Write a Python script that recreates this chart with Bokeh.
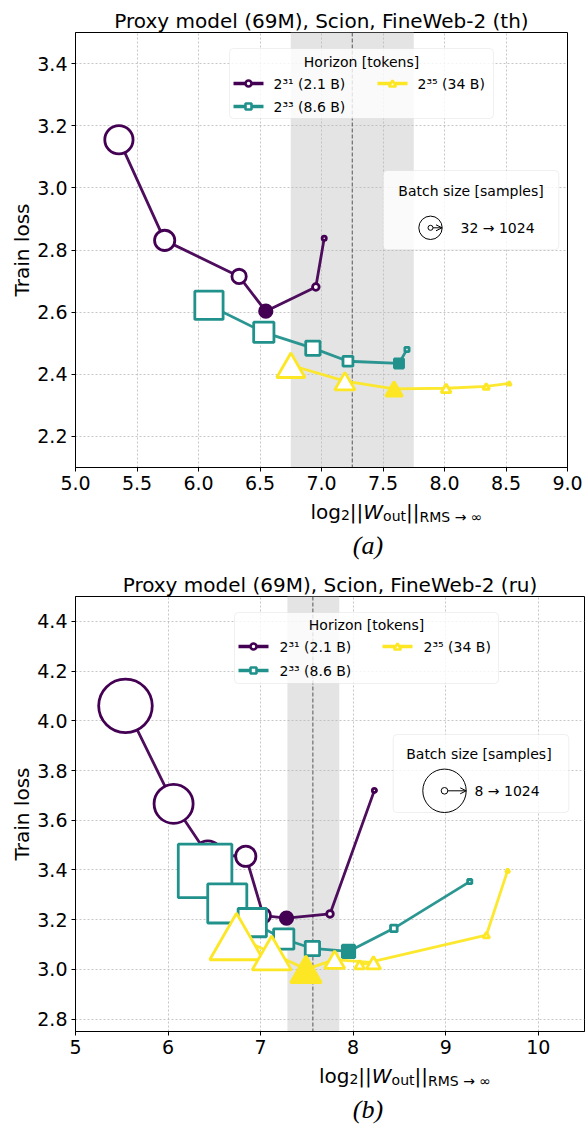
import math
from bokeh.plotting import figure
from bokeh.models import (Range1d, FixedTicker, BoxAnnotation, Span, Label, Arrow,
                          OpenHead, ColumnDataSource, NumeralTickFormatter)
from bokeh.layouts import column
from bokeh.embed import file_html
from bokeh.resources import INLINE

COLORS = ["#440154", "#21918c", "#fde725"]
MARKERS = ["circle", "square", "triangle"]
HORIZON_LABELS = ["2³¹ (2.1 B)", "2³³ (8.6 B)", "2³⁵ (34 B)"]
FONT = "DejaVu Sans"

# ---------------- panel (a): th ----------------
a_title = "Proxy model (69M), Scion, FineWeb-2 (th)"
a_batch = [1024, 512, 256, 128, 64, 32]
a_x31 = [5.353, 5.725, 6.330, 6.547, 6.954, 7.022]
a_y31 = [3.155, 2.831, 2.715, 2.603, 2.681, 2.838]
a_x33 = [6.085, 6.531, 6.930, 7.215, 7.630, 7.695]
a_y33 = [2.622, 2.535, 2.484, 2.442, 2.435, 2.480]
a_x35 = [6.751, 7.190, 7.590, 8.013, 8.339, 8.526]
a_y35 = [2.429, 2.378, 2.353, 2.355, 2.361, 2.371]
a_best = [3, 4, 2]
a_band = [6.75, 7.75]
a_center = 7.25
a_xlim = (5.0, 9.0)
a_ylim = (2.1, 3.5)
a_xticks = [5.0, 5.5, 6.0, 6.5, 7.0, 7.5, 8.0, 8.5, 9.0]
a_xtick_labels = ["5.0", "5.5", "6.0", "6.5", "7.0", "7.5", "8.0", "8.5", "9.0"]
a_yticks = [2.2, 2.4, 2.6, 2.8, 3.0, 3.2, 3.4]
a_ytick_labels = ["2.2", "2.4", "2.6", "2.8", "3.0", "3.2", "3.4"]
a_batch_text = "32 → 1024"

# ---------------- panel (b): ru ----------------
b_title = "Proxy model (69M), Scion, FineWeb-2 (ru)"
b_batch = [1024, 512, 256, 128, 64, 32, 16, 8]
b_x31 = [5.54, 6.06, 6.43, 6.84, 7.03, 7.28, 7.75, 8.23]
b_y31 = [4.060, 3.666, 3.460, 3.455, 3.216, 3.206, 3.223, 3.720]
b_x33 = [6.40, 6.64, 6.91, 7.25, 7.56, 7.95, 8.44, 9.26]
b_y33 = [3.396, 3.265, 3.188, 3.122, 3.084, 3.072, 3.165, 3.353]
b_x35 = [6.74, 7.12, 7.49, 7.80, 8.22, 8.07, 9.44, 9.67]
b_y35 = [3.132, 3.066, 3.000, 3.039, 3.027, 3.019, 3.138, 3.398]
b_best = [5, 5, 2]
b_band = [7.29, 7.85]
b_center = 7.565
b_xlim = (5.0, 10.5)
b_ylim = (2.75, 4.5)
b_xticks = [5, 6, 7, 8, 9, 10]
b_xtick_labels = ["5", "6", "7", "8", "9", "10"]
b_yticks = [2.8, 3.0, 3.2, 3.4, 3.6, 3.8, 4.0, 4.2, 4.4]
b_ytick_labels = ["2.8", "3.0", "3.2", "3.4", "3.6", "3.8", "4.0", "4.2", "4.4"]
b_batch_text = "8 → 1024"

LW = 2.8
W = 585
LEFT = 75
BOT = 29


def build(title, xlim, ylim, xticks, xlabels, yticks, ylabels, xfmt, band, center,
          xs, ys, batch, best, batch_text, fw, fh, top, yoff, leg, bleg):
    H = top + fh + BOT
    p = figure(width=W, height=H, frame_width=fw, frame_height=fh,
               x_range=Range1d(*xlim), y_range=Range1d(*ylim),
               min_border_left=LEFT, min_border_right=W - LEFT - fw,
               min_border_top=top, min_border_bottom=BOT,
               output_backend="svg", toolbar_location=None)
    x0, x1 = xlim
    y0, y1 = ylim
    sx = fw / (x1 - x0)
    sy = fh / (y1 - y0)

    def X(px):
        return x0 + (px - LEFT) / sx

    def Y(py):
        return y1 - (py - yoff - top) / sy

    p.title.text = title
    p.title.align = "center"
    p.title.text_font = FONT
    p.title.text_font_size = "20px"
    p.title.text_font_style = "normal"
    p.title.text_color = "black"
    p.title.standoff = 0

    p.xaxis.ticker = FixedTicker(ticks=xticks)
    p.yaxis.ticker = FixedTicker(ticks=yticks)
    p.xgrid.ticker = FixedTicker(ticks=xticks)
    p.ygrid.ticker = FixedTicker(ticks=yticks)
    p.xaxis.formatter = NumeralTickFormatter(format=xfmt)
    p.yaxis.formatter = NumeralTickFormatter(format="0.0")
    p.xaxis.major_label_overrides = {t: s for t, s in zip(xticks, xlabels)}
    p.yaxis.major_label_overrides = {t: s for t, s in zip(yticks, ylabels)}
    for ax in (p.xaxis, p.yaxis):
        ax.major_label_text_font = FONT
        ax.major_label_text_font_size = "19px"
        ax.major_label_text_color = "black"
        ax.axis_line_color = "black"
        ax.major_tick_line_color = "black"
        ax.major_tick_out = 4
        ax.major_tick_in = 0
        ax.minor_tick_line_color = None
        ax.major_label_standoff = 4
    p.yaxis.axis_label = "Train loss"
    p.yaxis.axis_label_text_font = FONT
    p.yaxis.axis_label_text_font_size = "20px"
    p.yaxis.axis_label_text_font_style = "normal"
    p.yaxis.axis_label_text_color = "black"
    p.yaxis.axis_label_standoff = 0
    p.outline_line_color = "black"
    p.outline_line_alpha = 1
    p.outline_line_width = 1
    p.grid.grid_line_color = "#b8b8b8"
    p.grid.grid_line_dash = "2 2"
    p.grid.grid_line_width = 0.8

    p.add_layout(BoxAnnotation(left=band[0], right=band[1], fill_color="#e4e4e4",
                               fill_alpha=1, line_color=None, level="image"))
    p.add_layout(Span(location=center, dimension="height", line_color="#555555",
                      line_dash="4 2", line_width=1, level="underlay"))

    bmin = min(batch)
    for k in range(3):
        p.line(xs[k], ys[k], line_color=COLORS[k], line_width=LW, line_alpha=0.95)
        sizes, fills, yv = [], [], []
        for i, b in enumerate(batch):
            D = 7 * (b / bmin) ** 0.43 + (2.5 if i == best[k] else 0)
            s = D - LW
            sizes.append(s)
            fills.append(COLORS[k] if i == best[k] else "white")
            if MARKERS[k] == "triangle":
                yv.append(ys[k][i] - 0.144 * s / sy)
            else:
                yv.append(ys[k][i])
        src = ColumnDataSource(dict(x=xs[k], y=yv, size=sizes, fill=fills))
        p.scatter("x", "y", size="size", marker=MARKERS[k], fill_color="fill",
                  line_color=COLORS[k], line_width=LW, source=src)

    # horizon legend
    (bx0, by0, bx1, by1, tcx, tcy, rows, cols) = leg
    p.add_layout(BoxAnnotation(left=X(bx0), right=X(bx1), top=Y(by0), bottom=Y(by1),
                               fill_color="white", fill_alpha=0.8, line_color="#cccccc",
                               line_width=1, border_radius=4, level="annotation"))
    p.add_layout(Label(x=X(tcx), y=Y(tcy), text="Horizon [tokens]", text_align="center",
                       text_baseline="middle", text_font=FONT, text_font_size="14px",
                       text_color="black", level="overlay"))
    slots = [(0, 0), (0, 1), (1, 0)]
    for k in range(3):
        c, r = slots[k]
        lx0, lx1, tx = cols[c]
        ry = rows[r]
        p.line([X(lx0), X(lx1)], [Y(ry), Y(ry)], line_color=COLORS[k], line_width=3.5,
               level="overlay")
        ms = 7 if MARKERS[k] == "triangle" else 6
        dy = 0.144 * ms if MARKERS[k] == "triangle" else 0
        p.scatter([X((lx0 + lx1) / 2)], [Y(ry + dy)], marker=MARKERS[k], size=ms,
                  fill_color="white", line_color=COLORS[k], line_width=2.6, level="overlay")
        p.add_layout(Label(x=X(tx), y=Y(ry), text=HORIZON_LABELS[k], text_align="left",
                           text_baseline="middle", text_font=FONT, text_font_size="14px",
                           text_color="black", level="overlay"))

    # batch-size legend
    (qx0, qy0, qx1, qy1, qtx, qty, ccx, ccy, R, r, ax1, ttx) = bleg
    p.add_layout(BoxAnnotation(left=X(qx0), right=X(qx1), top=Y(qy0), bottom=Y(qy1),
                               fill_color="white", fill_alpha=0.8, line_color="#cccccc",
                               line_width=1, border_radius=4, level="annotation"))
    p.add_layout(Label(x=X(qtx), y=Y(qty), text="Batch size [samples]", text_align="center",
                       text_baseline="middle", text_font=FONT, text_font_size="14px",
                       text_color="black", level="overlay"))
    p.scatter([X(ccx)], [Y(ccy)], marker="circle", size=2 * R, fill_color=None,
              line_color="black", line_width=1, level="overlay")
    p.scatter([X(ccx)], [Y(ccy)], marker="circle", size=2 * r, fill_color=None,
              line_color="black", line_width=1, level="overlay")
    p.add_layout(Arrow(end=OpenHead(size=6, line_width=1, line_color="black"),
                       x_start=X(ccx + r), y_start=Y(ccy), x_end=X(ax1), y_end=Y(ccy),
                       line_width=1, line_color="black", level="overlay"))
    p.add_layout(Label(x=X(ttx), y=Y(ccy), text=batch_text, text_align="left",
                       text_baseline="middle", text_font=FONT, text_font_size="14px",
                       text_color="black", level="overlay"))
    return p


def strip(h, fw, caption, cap_y):
    s = figure(width=W, height=h, frame_width=W, frame_height=h,
               x_range=Range1d(0, W), y_range=Range1d(h, 0),
               min_border=0, min_border_left=0, min_border_right=0,
               min_border_top=0, min_border_bottom=0,
               x_axis_location=None, y_axis_location=None,
               output_backend="svg", toolbar_location=None)
    s.outline_line_color = None
    s.grid.visible = False
    base = 15.5
    pieces = [("log", 20, "normal", 0, 30.49), ("2", 14, "normal", 3, 8.91),
              ("||", 20, "normal", 0, 13.48), ("W", 20, "italic", 0, 19.78),
              ("out", 14, "normal", 4, 22.93), ("||", 20, "normal", 0, 13.48),
              ("RMS → ∞", 14, "normal", 5, 63.06)]
    total = sum(pc[4] for pc in pieces)
    cx = LEFT + fw / 2 - total / 2
    for txt, fs, st, dy, w in pieces:
        s.add_layout(Label(x=cx, y=base + dy, text=txt, text_align="left",
                           text_baseline="alphabetic", text_font=FONT,
                           text_font_size=f"{fs}px", text_font_style=st,
                           text_color="black"))
        cx += w
    s.add_layout(Label(x=292.5, y=cap_y, text=caption, text_align="center",
                       text_baseline="middle", text_font="Liberation Serif",
                       text_font_style="italic", text_font_size="26px",
                       text_color="black"))
    return s


TOP_A, TOP_B = 32, 24
FH = 435
HA = TOP_A + FH + BOT
pa = build(a_title, a_xlim, a_ylim, a_xticks, a_xtick_labels, a_yticks, a_ytick_labels,
           "0.0", a_band, a_center,
           [a_x31, a_x33, a_x35], [a_y31, a_y33, a_y35], a_batch, a_best, a_batch_text,
           492, FH, TOP_A, 0,
           leg=(229, 48, 493, 118, 361, 61, [83, 106], [(233, 263, 273), (377, 407, 417)]),
           bleg=(382.7, 170, 558.3, 249.3, 470.5, 190.7, 430, 227.3, 11.7, 2.5, 441.5, 460))
sa = strip(570 - HA, 492, "(a)", 49)
HB = TOP_B + FH + BOT
pb = build(b_title, b_xlim, b_ylim, b_xticks, b_xtick_labels, b_yticks, b_ytick_labels,
           "0", b_band, b_center,
           [b_x31, b_x33, b_x35], [b_y31, b_y33, b_y35], b_batch, b_best, b_batch_text,
           509, FH, TOP_B, 570,
           leg=(234, 610, 498, 681, 366, 622, [644, 668], [(238, 268, 279), (382, 412, 423)]),
           bleg=(392.7, 732, 568.3, 810, 478.4, 751.7, 444, 788.3, 21.7, 3.3, 465.7, 474))
sb = strip(1125 - 570 - HB, 509, "(b)", 49)

layout = column(pa, sa, pb, sb, spacing=0)
open("out.html", "w").write(file_html(layout, INLINE))
